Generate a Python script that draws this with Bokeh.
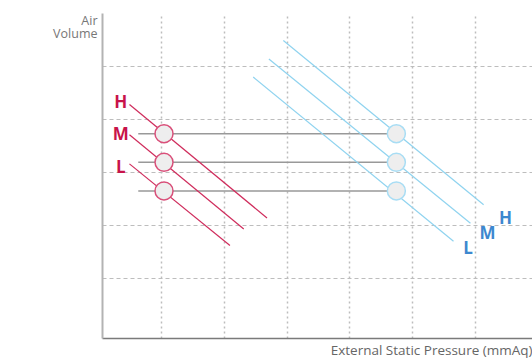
from bokeh.plotting import figure
from bokeh.models import FixedTicker, Range1d, Title
from bokeh.core.properties import value
from bokeh.embed import file_html
from bokeh.resources import INLINE

# ---- data (grid units: vertical gridlines at x=1..6, horizontal at y=1..5) ----
levels = ["H", "M", "L"]

# indoor unit (red) fan curves
red_x0 = [0.49, 0.49, 0.49]
red_y0 = [4.29, 3.72, 3.17]
red_x1 = [2.68, 2.31, 2.09]
red_y1 = [2.15, 1.94, 1.63]
red_label_x = [0.35, 0.35, 0.35]
red_label_y = [4.35, 3.74, 3.12]

# high-static (blue) fan curves
blue_x0 = [2.94, 2.71, 2.46]
blue_y0 = [5.50, 5.15, 4.81]
blue_x1 = [6.13, 5.92, 5.65]
blue_y1 = [2.40, 2.05, 1.71]
blue_label_x = [6.48, 6.19, 5.88]
blue_label_y = [2.16, 1.88, 1.59]

# operating points
op_y = [3.74, 3.20, 2.66]
red_op_x = [1.04, 1.04, 1.04]
blue_op_x = [4.74, 4.74, 4.74]
guide_x0 = [0.63, 0.63, 0.63]

grid_x = [1, 2, 3, 4, 5, 6]
grid_y = [1, 2, 3, 4, 5]

x_title = "External Static Pressure (mmAq)"
y_title = "\n\nAir\nVolume"

RED = "#c8134a"
RED_LINE = "#cf2c5c"
RED_RING = "#d9507a"
BLUE_LINE = "#8fd3ef"
BLUE_RING = "#a8ddf4"
BLUE_TXT = "#3d88cf"
FONT = "Open Sans"

p = figure(width=532, height=359, output_backend="svg", toolbar_location=None,
           x_range=Range1d(0.0605, 6.908), y_range=Range1d(-0.127, 6.01),
           min_border_left=102, min_border_right=0, min_border_top=13,
           min_border_bottom=21)
p.outline_line_color = None
p.background_fill_color = "white"
p.border_fill_color = "white"

# axes: lines only, no ticks
for ax in (p.xaxis[0], p.yaxis[0]):
    ax.ticker = FixedTicker(ticks=[])
    ax.major_tick_line_color = None
    ax.minor_tick_line_color = None
    ax.major_tick_in = 0
    ax.major_tick_out = 0
    ax.minor_tick_in = 0
    ax.minor_tick_out = 0
    ax.major_label_standoff = 0
    ax.axis_label_text_font = FONT
    ax.axis_label_text_font_style = "normal"

p.xaxis.axis_line_color = "#7a7a7a"
p.xaxis.axis_line_width = 1.5
p.yaxis.axis_line_color = "#b3b3b3"
p.yaxis.axis_line_width = 2

# x title, right-aligned under the axis end
p.add_layout(Title(text=x_title, align="right", standoff=0, offset=0,
                   text_font=FONT, text_font_size="13.5px", text_font_style="normal",
                   text_color="#666666"), "below")

# y title, horizontal at the top of the axis
p.yaxis.axis_label = y_title
p.yaxis.axis_label_orientation = "horizontal"
p.yaxis.axis_label_align = "end"
p.yaxis.axis_label_standoff = 5
p.yaxis.axis_label_text_font_size = "12.5px"
p.yaxis.axis_label_text_line_height = 0.8
p.yaxis.axis_label_text_color = "#777777"
p.yaxis.axis_label_text_align = "right"

p.xgrid.ticker = FixedTicker(ticks=grid_x)
p.ygrid.ticker = FixedTicker(ticks=grid_y)
p.xgrid.grid_line_color = "#bdbdbd"
p.xgrid.grid_line_dash = "2 3"
p.xgrid.grid_line_width = 1.5
p.ygrid.grid_line_color = "#bdbdbd"
p.ygrid.grid_line_dash = "4 3"
p.ygrid.grid_line_width = 1

# gray guide lines between operating points
p.segment(x0=guide_x0, y0=op_y, x1=blue_op_x, y1=op_y, line_color="#999999", line_width=1.5)

# red curves
p.segment(x0=red_x0, y0=red_y0, x1=red_x1, y1=red_y1, line_color=RED_LINE, line_width=1.2)
# blue curves
p.segment(x0=blue_x0, y0=blue_y0, x1=blue_x1, y1=blue_y1, line_color=BLUE_LINE, line_width=1.2)

# operating points
p.scatter(x=red_op_x, y=op_y, size=18, fill_color="#eeeeee", line_color=RED_RING, line_width=1.5)
p.scatter(x=blue_op_x, y=op_y, size=18, fill_color="#eeeeee", line_color=BLUE_RING, line_width=1.5)

# level labels
p.text(x=red_label_x, y=red_label_y, text=levels, text_color=RED,
       text_font=value(FONT), text_font_style="bold", text_font_size="17px",
       text_align="center", text_baseline="middle")
p.text(x=blue_label_x, y=blue_label_y, text=levels, text_color=BLUE_TXT,
       text_font=value(FONT), text_font_style="bold", text_font_size="17px",
       text_align="center", text_baseline="middle")

open("out.html", "w").write(file_html(p, INLINE))
